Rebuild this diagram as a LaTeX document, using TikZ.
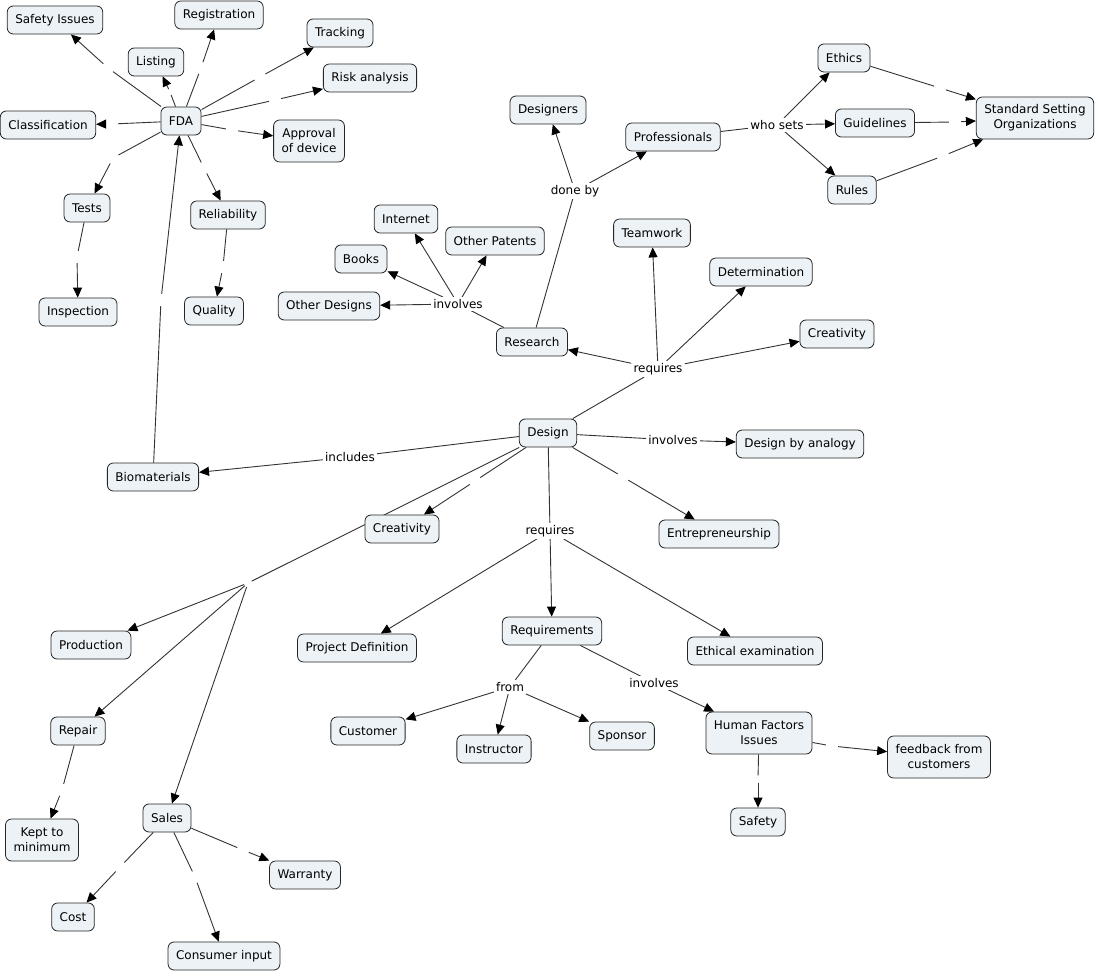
\documentclass[tikz,border=0pt]{standalone}
\usepackage{fontspec}
\setmainfont{DejaVu Sans}
\usetikzlibrary{arrows.meta,backgrounds}
\definecolor{conceptfill}{RGB}{236,242,245}
\tikzset{
  concept/.style={draw=black!85, line width=0.8pt, fill=conceptfill, rounded corners=6pt,
    minimum height=28pt, inner xsep=8pt, inner ysep=4pt, align=center},
  twoline/.style={concept, minimum height=42pt},
  phrase/.style={fill=white, inner sep=2pt},
  nolabel/.style={circle, inner sep=0pt, minimum size=12pt},
  link/.style={draw=black!80, line width=0.9pt},
  arrow/.style={link, -{Triangle[length=10pt,width=9pt,color=black]}},
}
\begin{document}
\begin{tikzpicture}[x=1pt, y=-1pt, font=\fontsize{12}{15}\selectfont]
  \useasboundingbox (0,0) rectangle (1096,973);

  % FDA cluster
  \node[concept] (safety) at (55,20) {Safety Issues};
  \node[concept] (registration) at (219,15) {Registration};
  \node[concept] (listing) at (156,62) {Listing};
  \node[concept] (tracking) at (340,33) {Tracking};
  \node[concept] (risk) at (370,78) {Risk analysis};
  \node[concept] (classification) at (48,125) {Classification};
  \node[concept] (fda) at (181,121) {FDA};
  \node[twoline] (approval) at (309,141) {Approval\\of device};
  \node[concept] (tests) at (87,208) {Tests};
  \node[concept] (reliability) at (228,215) {Reliability};
  \node[concept] (inspection) at (78,312) {Inspection};
  \node[concept] (quality) at (214,311) {Quality};

  % research and standards
  \node[concept] (internet) at (406,219) {Internet};
  \node[concept] (books) at (361,259) {Books};
  \node[concept] (patents) at (495,241) {Other Patents};
  \node[concept] (otherdesigns) at (329,306) {Other Designs};
  \node[phrase] (involvesR) at (458,304) {involves};
  \node[concept] (research) at (532,342) {Research};
  \node[concept] (designers) at (548,110) {Designers};
  \node[phrase] (doneby) at (575,191) {done by};
  \node[concept] (professionals) at (673,137) {Professionals};
  \node[phrase] (whosets) at (777,125) {who sets};
  \node[concept] (ethics) at (844,58) {Ethics};
  \node[concept] (guidelines) at (875,123) {Guidelines};
  \node[concept] (rules) at (852,190) {Rules};
  \node[twoline] (sso) at (1035,118) {Standard Setting\\Organizations};

  % design
  \node[concept] (teamwork) at (652,233) {Teamwork};
  \node[concept] (determination) at (761,272) {Determination};
  \node[concept] (creativityR) at (837,334) {Creativity};
  \node[phrase] (requiresR) at (658,369) {requires};
  \node[concept] (design) at (548,433) {Design};
  \node[phrase] (involvesD) at (673,440) {involves};
  \node[concept] (analogy) at (800,444) {Design by analogy};
  \node[phrase] (includes) at (350,457) {includes};
  \node[concept] (biomaterials) at (153,477) {Biomaterials};
  \node[concept] (creativityL) at (402,529) {Creativity};
  \node[concept] (entrepreneurship) at (719,534) {Entrepreneurship};
  \node[phrase] (requiresD) at (550,531) {requires};
  \node[concept] (projectdef) at (357,648) {Project Definition};
  \node[concept] (requirements) at (552,631) {Requirements};
  \node[concept] (ethical) at (755,651) {Ethical examination};
  \node[phrase] (from) at (510,687) {from};
  \node[phrase] (involvesH) at (654,683) {involves};
  \node[concept] (customer) at (368,731) {Customer};
  \node[concept] (instructor) at (494,749) {Instructor};
  \node[concept] (sponsor) at (622,736) {Sponsor};
  \node[twoline] (human) at (759,733) {Human Factors\\Issues};
  \node[twoline] (feedback) at (939,757) {feedback from\\customers};
  \node[concept] (safetyH) at (758,822) {Safety};

  % production side
  \node[nolabel, minimum size=8pt] (gmake) at (248,583) {};
  \node[concept] (production) at (91,645) {Production};
  \node[concept] (repair) at (78,731) {Repair};
  \node[concept] (sales) at (167,818) {Sales};
  \node[twoline] (kept) at (42,840) {Kept to\\minimum};
  \node[concept] (warranty) at (305,875) {Warranty};
  \node[concept] (cost) at (73,917) {Cost};
  \node[concept] (consumer) at (224,956) {Consumer input};

  % links with no phrase
  \foreach \g/\x/\y in {gsafety/108/68, gregistration/201/68, gtracking/260/77,
      grisk/275/100, gclass/112/124, gapproval/232/130, gtests/113/158,
      greliab/204/168, ginspect/77/257, gquality/223/267, gbio/161/300,
      gcreat/475/481, gentre/623/477, gcost/120/867, gconsumer/195/877,
      gwarranty/243/850, gkept/62/790, gfeedback/832/746,
      gethics/940/88, gguide/955/122, grules/943/156}
    \node[nolabel] (\g) at (\x,\y) {};
  \node[nolabel, minimum size=6pt] (glisting) at (170,92) {};
  \node[nolabel, minimum size=7pt] (gsafetyH) at (758,779) {};

  \begin{pgfonlayer}{background}
    \foreach \a/\g/\b in {fda/gsafety/safety, fda/glisting/listing,
        fda/gregistration/registration, fda/gtracking/tracking, fda/grisk/risk,
        fda/gclass/classification, fda/gapproval/approval, fda/gtests/tests,
        fda/greliab/reliability, tests/ginspect/inspection,
        reliability/gquality/quality, biomaterials/gbio/fda,
        design/gcreat/creativityL, design/gentre/entrepreneurship,
        sales/gcost/cost, sales/gconsumer/consumer, sales/gwarranty/warranty,
        repair/gkept/kept, human/gfeedback/feedback, human/gsafetyH/safetyH,
        ethics/gethics/sso, guidelines/gguide/sso, rules/grules/sso}
      {\draw[link] (\a) -- (\g); \draw[arrow] (\g) -- (\b);}

    % links with a phrase
    \draw[link] (research) -- (involvesR);
    \foreach \b in {otherdesigns,books,internet,patents}
      \draw[arrow] (involvesR) -- (\b);
    \draw[link] (research) -- (doneby);
    \foreach \b in {designers,professionals}
      \draw[arrow] (doneby) -- (\b);
    \draw[link] (professionals) -- (whosets);
    \foreach \b in {ethics,guidelines,rules}
      \draw[arrow] (whosets) -- (\b);
    \draw[link] (design) -- (requiresR);
    \foreach \b in {research,teamwork,determination,creativityR}
      \draw[arrow] (requiresR) -- (\b);
    \draw[link] (design) -- (involvesD);
    \draw[arrow] (involvesD) -- (analogy);
    \draw[link] (design) -- (includes);
    \draw[arrow] (includes) -- (biomaterials);
    \draw[link] (design) -- (requiresD);
    \foreach \b in {projectdef,requirements,ethical}
      \draw[arrow] (requiresD) -- (\b);
    \draw[link] (requirements) -- (from);
    \foreach \b in {customer,instructor,sponsor}
      \draw[arrow] (from) -- (\b);
    \draw[link] (requirements) -- (involvesH);
    \draw[arrow] (involvesH) -- (human);
    \draw[link] (design) -- (gmake);
    \foreach \b in {production,repair,sales}
      \draw[arrow] (gmake) -- (\b);
  \end{pgfonlayer}
\end{tikzpicture}
\end{document}
